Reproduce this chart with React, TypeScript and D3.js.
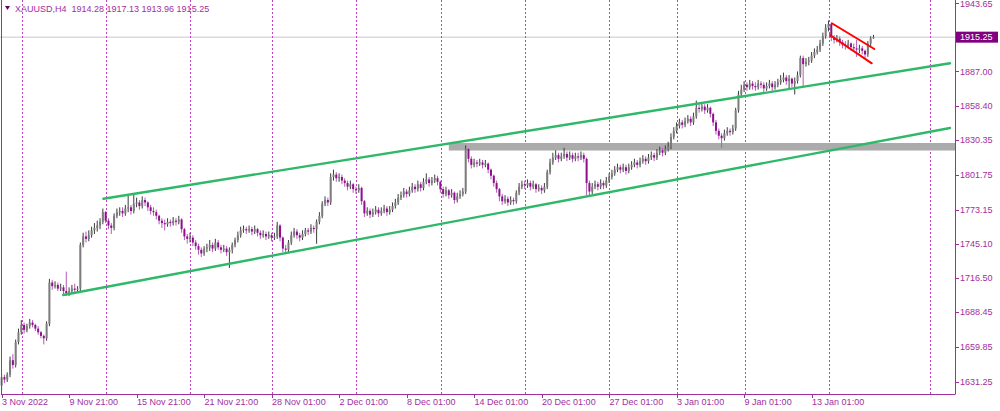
import React from "react";
import * as d3 from "d3";

const W = 1000;
const H = 411;

// ---- data ----
const firstOpen = 1628;
const closes = [
  1635, 1633, 1637, 1649, 1645, 1664, 1672, 1678, 1674, 1677, 1680, 1678, 1675, 1672, 1669, 1667, 1679, 1713,
  1710, 1711, 1708, 1709, 1706, 1704, 1706, 1708, 1707, 1708, 1744, 1751, 1749, 1752, 1756, 1758, 1760, 1763,
  1771, 1764, 1760, 1758, 1768, 1771, 1772, 1770, 1774, 1775, 1772, 1778, 1779, 1776, 1781, 1779, 1775, 1772,
  1771, 1768, 1764, 1762, 1761, 1763, 1762, 1764, 1763, 1765, 1757, 1751, 1749, 1750, 1746, 1743, 1740, 1737,
  1741, 1742, 1744, 1741, 1746, 1742, 1740, 1741, 1738, 1740, 1744, 1748, 1752, 1756, 1757, 1756, 1757, 1755,
  1757, 1754, 1752, 1753, 1751, 1752, 1750, 1751, 1760, 1750, 1741, 1740, 1746, 1752, 1755, 1752, 1750, 1753,
  1756, 1755, 1758, 1757, 1763, 1768, 1778, 1781, 1779, 1800, 1802, 1799, 1800, 1797, 1795, 1792, 1794, 1790,
  1789, 1791, 1780, 1770, 1772, 1769, 1771, 1773, 1770, 1772, 1774, 1771, 1773, 1776, 1779, 1783, 1785, 1788,
  1786, 1789, 1792, 1790, 1794, 1791, 1796, 1798, 1795, 1797, 1799, 1796, 1790, 1786, 1789, 1785, 1787, 1781,
  1784, 1786, 1788, 1823, 1815, 1810, 1812, 1811, 1812, 1810, 1811, 1806, 1801, 1795, 1790, 1784, 1780, 1782,
  1779, 1781, 1780, 1787, 1792, 1794, 1793, 1795, 1792, 1794, 1790, 1791, 1789, 1792, 1804, 1812, 1816, 1818,
  1815, 1817, 1819, 1816, 1818, 1815, 1817, 1816, 1818, 1815, 1795, 1788, 1792, 1794, 1792, 1795, 1793, 1797,
  1800, 1803, 1806, 1808, 1806, 1808, 1805, 1808, 1810, 1812, 1810, 1813, 1815, 1813, 1816, 1818, 1816, 1820,
  1822, 1820, 1823, 1825, 1833, 1838, 1842, 1845, 1843, 1846, 1848, 1845, 1850, 1857, 1856, 1858, 1855, 1857,
  1852, 1845, 1838, 1834, 1832, 1836, 1838, 1837, 1840, 1855, 1868, 1872, 1876, 1874, 1877, 1875, 1874, 1877,
  1876, 1873, 1875, 1877, 1874, 1876, 1878, 1880, 1882, 1879, 1881, 1877, 1879, 1884, 1898, 1893, 1895, 1896,
  1900, 1903, 1905, 1910, 1916, 1923, 1926, 1915, 1913, 1914, 1911, 1909, 1908, 1910, 1907, 1906, 1905, 1906,
  1904, 1901, 1910, 1914.28, 1915.25,
];
const highs = [
  1638, 1637, 1639, 1652, 1654, 1666, 1675, 1682, 1680, 1679, 1683, 1682, 1679, 1677, 1673, 1670, 1681, 1716,
  1715, 1714, 1713, 1712, 1711, 1722, 1709, 1711, 1712, 1710, 1746, 1754, 1755, 1756, 1759, 1762, 1764, 1766,
  1774, 1772, 1766, 1762, 1770, 1774, 1775, 1775, 1777, 1785, 1777, 1786, 1783, 1781, 1784, 1783, 1780, 1777,
  1775, 1773, 1769, 1766, 1765, 1766, 1765, 1767, 1766, 1768, 1766, 1758, 1753, 1754, 1752, 1748, 1745, 1742,
  1743, 1745, 1748, 1746, 1749, 1748, 1744, 1744, 1743, 1742, 1746, 1750, 1755, 1759, 1760, 1759, 1760, 1759,
  1760, 1758, 1756, 1756, 1755, 1755, 1754, 1754, 1763, 1761, 1751, 1744, 1748, 1755, 1758, 1757, 1754, 1756,
  1758, 1758, 1761, 1760, 1765, 1771, 1780, 1784, 1783, 1803, 1806, 1804, 1803, 1802, 1799, 1797, 1797, 1795,
  1792, 1794, 1792, 1781, 1775, 1774, 1774, 1776, 1775, 1775, 1777, 1776, 1776, 1779, 1782, 1786, 1788, 1791,
  1790, 1792, 1795, 1794, 1797, 1796, 1799, 1803, 1800, 1800, 1802, 1801, 1797, 1792, 1792, 1790, 1790, 1788,
  1787, 1789, 1791, 1826, 1824, 1817, 1815, 1814, 1815, 1814, 1814, 1812, 1807, 1802, 1797, 1791, 1786, 1785,
  1784, 1784, 1783, 1789, 1795, 1797, 1797, 1798, 1797, 1797, 1795, 1794, 1793, 1795, 1806, 1815, 1820, 1822,
  1820, 1820, 1824, 1821, 1821, 1820, 1820, 1820, 1821, 1820, 1816, 1797, 1795, 1797, 1796, 1798, 1797, 1800,
  1803, 1806, 1809, 1811, 1810, 1811, 1810, 1811, 1813, 1815, 1814, 1816, 1818, 1817, 1819, 1821, 1820, 1823,
  1825, 1824, 1826, 1829, 1836, 1841, 1845, 1848, 1847, 1849, 1851, 1850, 1853, 1863, 1860, 1861, 1860, 1860,
  1858, 1853, 1847, 1840, 1836, 1839, 1841, 1840, 1843, 1857, 1871, 1876, 1879, 1878, 1880, 1879, 1878, 1880,
  1879, 1878, 1878, 1880, 1879, 1879, 1881, 1884, 1886, 1884, 1884, 1882, 1882, 1887, 1900, 1900, 1898, 1899,
  1903, 1906, 1908, 1913, 1919, 1926, 1929, 1927, 1917, 1917, 1916, 1913, 1912, 1913, 1911, 1910, 1913, 1909,
  1908, 1905, 1912, 1916, 1917.13,
];
const lows = [
  1624, 1630, 1631, 1635, 1642, 1643, 1662, 1670, 1671, 1672, 1675, 1676, 1673, 1670, 1667, 1662, 1665, 1677,
  1707, 1708, 1706, 1706, 1703, 1702, 1702, 1704, 1705, 1705, 1706, 1742, 1746, 1747, 1750, 1753, 1755, 1757,
  1761, 1762, 1757, 1753, 1756, 1766, 1768, 1767, 1768, 1771, 1769, 1770, 1775, 1773, 1774, 1776, 1772, 1769,
  1768, 1765, 1761, 1758, 1756, 1759, 1759, 1760, 1760, 1761, 1754, 1748, 1745, 1746, 1743, 1740, 1736, 1734,
  1735, 1738, 1739, 1738, 1739, 1740, 1737, 1738, 1735, 1725, 1737, 1742, 1746, 1750, 1754, 1753, 1754, 1752,
  1753, 1751, 1749, 1750, 1748, 1749, 1747, 1748, 1749, 1747, 1738, 1737, 1738, 1744, 1750, 1749, 1747, 1748,
  1751, 1752, 1753, 1754, 1745, 1761, 1766, 1776, 1776, 1777, 1797, 1796, 1796, 1794, 1792, 1789, 1790, 1787,
  1786, 1787, 1777, 1767, 1768, 1766, 1767, 1769, 1767, 1768, 1770, 1768, 1769, 1771, 1774, 1777, 1781, 1783,
  1783, 1784, 1787, 1787, 1788, 1788, 1789, 1794, 1792, 1793, 1795, 1793, 1787, 1783, 1784, 1782, 1783, 1778,
  1779, 1782, 1784, 1786, 1812, 1807, 1808, 1808, 1809, 1807, 1808, 1803, 1798, 1792, 1787, 1780, 1777, 1778,
  1776, 1777, 1777, 1778, 1785, 1790, 1790, 1791, 1789, 1790, 1787, 1788, 1786, 1787, 1790, 1802, 1810, 1814,
  1812, 1813, 1815, 1813, 1814, 1812, 1813, 1813, 1814, 1812, 1785, 1785, 1786, 1790, 1789, 1790, 1790, 1791,
  1795, 1798, 1801, 1804, 1803, 1804, 1802, 1803, 1806, 1808, 1807, 1808, 1811, 1810, 1811, 1814, 1813, 1814,
  1818, 1817, 1818, 1821, 1823, 1831, 1836, 1840, 1840, 1841, 1844, 1842, 1843, 1848, 1853, 1854, 1852, 1853,
  1849, 1842, 1835, 1831, 1824, 1830, 1834, 1834, 1835, 1838, 1853, 1866, 1870, 1871, 1872, 1872, 1871, 1872,
  1873, 1870, 1871, 1873, 1871, 1872, 1874, 1876, 1878, 1876, 1872, 1874, 1868, 1877, 1882, 1874, 1891, 1892,
  1894, 1898, 1901, 1903, 1908, 1914, 1920, 1912, 1910, 1911, 1908, 1906, 1905, 1906, 1904, 1903, 1899, 1902,
  1901, 1898, 1899, 1908, 1913.96,
];

const priceTicks = [1943.65, 1887.0, 1858.4, 1830.35, 1801.75, 1773.15, 1745.1, 1716.5, 1688.45, 1659.85, 1631.25];
const timeTickBars = [0, 24, 48, 72, 96, 120, 144, 168, 192, 216, 240, 264, 288];
const timeTickLabels = [
  "3 Nov 2022", "9 Nov 21:00", "15 Nov 21:00", "21 Nov 21:00", "28 Nov 01:00", "2 Dec 01:00",
  "8 Dec 01:00", "14 Dec 01:00", "20 Dec 01:00", "27 Dec 01:00", "3 Jan 01:00", "9 Jan 01:00", "13 Jan 01:00",
];
const separatorBars = [7.25, 37.1, 67, 96.1, 126, 156.2, 186.1, 216, 240.2, 264.3, 294.2, 330.1];

const currentPrice = 1915.25;
const titleSymbol = "XAUUSD,H4";
const titleValues = ["1914.28", "1917.13", "1913.96", "1915.25"];

// drawn objects: [bar1, price1, bar2, price2]
const channelUpper = [36.2, 1782.1, 337.2, 1893.7];
const channelLower = [21.9, 1702.7, 337.2, 1840.4];
const flagUpper = [295.2, 1926.7, 310.3, 1905.5];
const flagLower = [294.5, 1917.0, 309.4, 1893.7];
const zoneBars = [159, 345];
const zonePrices = [1821.8, 1828.0];

const AXIS = "#A12EA1";
const FONT = "'Liberation Sans', Arial, sans-serif";
const FS = 9;

export default function App() {
  const plotRight = 955;
  const plotBottom = 394;
  const x = d3.scaleLinear().domain([0, 288]).range([1.6, 811.6]);
  const y = d3.scaleLinear().domain([1631.25, 1943.65]).range([381.7, 2.7]);

  const opens = closes.map((c, i) => (i === 0 ? firstOpen : closes[i - 1]));

  const seg = (s: number[], color: string, w: number) => (
    <line x1={x(s[0])} y1={y(s[1])} x2={x(s[2])} y2={y(s[3])} stroke={color} strokeWidth={w} strokeLinecap="round" />
  );

  return (
    <svg width={W} height={H} style={{ position: "fixed", left: 0, top: 0, background: "#fff" }} fontFamily={FONT}>
      <defs>
        <clipPath id="plot">
          <rect x={0} y={0} width={plotRight} height={plotBottom} />
        </clipPath>
      </defs>
      <rect x={0} y={0} width={W} height={H} fill="#fff" />
      <g clipPath="url(#plot)">
        {/* current price line */}
        <line x1={0} x2={plotRight} y1={y(currentPrice)} y2={y(currentPrice)} stroke="#c8c8c8" strokeWidth={1} />
        {/* weekly separators */}
        {separatorBars.map((b, i) => (
          <line key={"s" + i} x1={Math.round(x(b)) + 0.5} x2={Math.round(x(b)) + 0.5} y1={0} y2={plotBottom}
            stroke="#C040C0" strokeWidth={1} strokeDasharray="2,2" />
        ))}
        {/* zone */}
        <rect x={x(zoneBars[0])} width={x(zoneBars[1]) - x(zoneBars[0])} y={y(zonePrices[1])}
          height={y(zonePrices[0]) - y(zonePrices[1])} fill="#ababab" />
        {/* candles */}
        {closes.map((c, i) => {
          const o = opens[i];
          const bull = c >= o;
          const cx = x(i);
          const top = y(Math.max(o, c));
          const bot = y(Math.min(o, c));
          return (
            <g key={i}>
              <line x1={cx} x2={cx} y1={y(highs[i])} y2={y(lows[i])} stroke={bull ? "#3c3c3c" : "#b35db3"} strokeWidth={1} />
              <rect x={cx - 1} width={2} y={top} height={Math.max(1, bot - top)} fill={bull ? "#7d7d7d" : "#8e108e"} />
            </g>
          );
        })}
        {/* trend lines */}
        {seg(channelUpper, "#2fb868", 2.4)}
        {seg(channelLower, "#2fb868", 2.4)}
        {seg(flagUpper, "#ff0000", 2)}
        {seg(flagLower, "#ff0000", 2)}
      </g>
      {/* frame */}
      <line x1={1.5} x2={1.5} y1={0} y2={plotBottom} stroke={AXIS} strokeWidth={1} />
      <line x1={plotRight + 0.5} x2={plotRight + 0.5} y1={0} y2={plotBottom + 0.5} stroke={AXIS} strokeWidth={1} />
      <line x1={1} x2={plotRight} y1={plotBottom + 0.5} y2={plotBottom + 0.5} stroke={AXIS} strokeWidth={1} />
      {/* price axis */}
      {priceTicks.map((p, i) => (
        <g key={"p" + i}>
          <line x1={plotRight} x2={plotRight + 4} y1={Math.round(y(p)) + 0.5} y2={Math.round(y(p)) + 0.5} stroke={AXIS} />
          <text x={plotRight + 5} y={Math.max(y(p), 4)} dy="0.35em" fontSize={FS} fill={AXIS}>{p.toFixed(2)}</text>
        </g>
      ))}
      <rect x={plotRight + 1} y={y(currentPrice) - 5.5} width={42} height={11} fill="#800080" />
      <text x={plotRight + 5} y={y(currentPrice)} dy="0.35em" fontSize={FS} fill="#fff">{currentPrice.toFixed(2)}</text>
      {/* time axis */}
      {timeTickBars.map((b, i) => (
        <g key={"t" + i}>
          <line x1={Math.round(x(b)) + 0.5} x2={Math.round(x(b)) + 0.5} y1={plotBottom} y2={plotBottom + 4} stroke={AXIS} />
          <text x={x(b) + 0.5} y={405} fontSize={FS} fill={AXIS}>{timeTickLabels[i]}</text>
        </g>
      ))}
      {/* title */}
      <path d="M5,6 L10,6 L7.5,10 Z" fill="#6a006a" />
      <text x={15} y={12} fontSize={FS} fill={AXIS} xmlSpace="preserve">
        {titleSymbol + "  " + titleValues.join(" ")}
      </text>
    </svg>
  );
}
